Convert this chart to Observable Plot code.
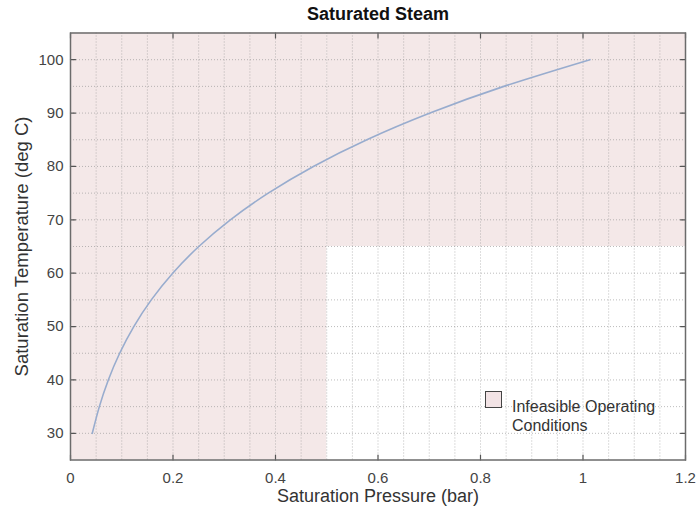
<!DOCTYPE html>
<html>
<head>
<meta charset="utf-8">
<script src="https://cdn.jsdelivr.net/npm/d3@7"></script>
<script src="https://cdn.jsdelivr.net/npm/@observablehq/plot@0.6"></script>
<style>
  body { margin: 0; background: white; }
  #wrap { position: relative; width: 699px; height: 510px; font-family: "Liberation Sans", Arial, sans-serif; }
  #legend { position: absolute; left: 485px; top: 391px; color: #333; font-size: 16px; line-height: 19px; }
  #legend .box { position: absolute; left: 0; top: 0; width: 15px; height: 15px; border: 1.3px solid #444; background: #f2e3e5; }
  #legend .txt { position: absolute; left: 27px; top: 5.5px; white-space: nowrap; }
</style>
</head>
<body>
<div id="wrap"></div>
<script>
// Saturation temperature (deg C) and pressure (bar)
const temperature = [30, 35, 40, 45, 50, 55, 60, 65, 70, 75, 80, 85, 90, 95, 100];
const pressure = [0.0425, 0.0563, 0.0738, 0.0959, 0.1235, 0.1576, 0.1994, 0.2503, 0.3119, 0.3858, 0.4739, 0.5783, 0.7014, 0.8455, 1.0135];

// Infeasible operating region (shaded)
const regionX1 = [0, 0.5];
const regionX2 = [0.5, 1.2];
const regionY1 = [25, 65];
const regionY2 = [105, 105];

const xTicks = [0, 0.2, 0.4, 0.6, 0.8, 1, 1.2];
const yTicks = [30, 40, 50, 60, 70, 80, 90, 100];
const xGrid = [0.05, 0.1, 0.15, 0.2, 0.25, 0.3, 0.35, 0.4, 0.45, 0.5, 0.55, 0.6, 0.65, 0.7, 0.75, 0.8, 0.85, 0.9, 0.95, 1, 1.05, 1.1, 1.15];
const yGrid = [30, 35, 40, 45, 50, 55, 60, 65, 70, 75, 80, 85, 90, 95, 100];

const curve = temperature.map((t, i) => ({p: pressure[i], t}));
const regions = regionX1.map((x1, i) => ({x1, x2: regionX2[i], y1: regionY1[i], y2: regionY2[i]}));

const fmt = d => String(+d.toFixed(2));
const tickShape = {draw(context, l) { context.moveTo(0, 0); context.lineTo(0, -l); }};
const tickStyle = {length: 5, anchor: "start", shape: tickShape, stroke: "#555", strokeWidth: 1.2};

const chart = Plot.plot({
  width: 699,
  height: 510,
  marginLeft: 70,
  marginRight: 14,
  marginTop: 32.5,
  marginBottom: 50.5,
  x: {domain: [0, 1.2]},
  y: {domain: [25, 105]},
  style: {fontFamily: "'Liberation Sans', Arial, sans-serif", fontSize: "15px", color: "#444", background: "white", overflow: "visible"},
  marks: [
    Plot.rect(regions, {x1: "x1", x2: "x2", y1: "y1", y2: "y2", fill: "#f4e8e8"}),
    Plot.gridX(xGrid, {stroke: "#8f8f8f", strokeOpacity: 0.6, strokeDasharray: "1,2"}),
    Plot.gridY(yGrid, {stroke: "#8f8f8f", strokeOpacity: 0.6, strokeDasharray: "1,2"}),
    Plot.line(curve, {x: "p", y: "t", stroke: "#98acce", strokeWidth: 1.6, curve: "natural"}),
    Plot.vector(xTicks, {x: d => d, frameAnchor: "bottom", rotate: 0, ...tickStyle}),
    Plot.vector(xTicks, {x: d => d, frameAnchor: "top", rotate: 180, ...tickStyle}),
    Plot.vector(yTicks, {y: d => d, frameAnchor: "left", rotate: 90, ...tickStyle}),
    Plot.vector(yTicks, {y: d => d, frameAnchor: "right", rotate: -90, ...tickStyle}),
    Plot.frame({stroke: "#6b6b6b", strokeWidth: 1.5}),
    Plot.axisX(xTicks, {anchor: "bottom", tickSize: 0, tickPadding: 12, tickFormat: fmt, fill: "#444", fontSize: 15, label: null}),
    Plot.axisY(yTicks, {anchor: "left", tickSize: 0, tickPadding: 7, tickFormat: fmt, fill: "#444", fontSize: 15, label: null}),
    Plot.text(["Saturated Steam"], {frameAnchor: "top", lineAnchor: "middle", dy: -18.5, fontWeight: "bold", fontSize: 18, fill: "#111"}),
    Plot.text(["Saturation Pressure (bar)"], {frameAnchor: "bottom", lineAnchor: "middle", dy: 36, fontSize: 18, fill: "#333"}),
    Plot.text(["Saturation Temperature (deg C)"], {frameAnchor: "left", textAnchor: "middle", lineAnchor: "middle", dx: -48, rotate: -90, fontSize: 18.5, fill: "#333"})
  ]
});

const wrap = document.getElementById("wrap");
wrap.appendChild(chart);
const legend = document.createElement("div");
legend.id = "legend";
legend.innerHTML = '<div class="box"></div><div class="txt">Infeasible Operating<br>Conditions</div>';
wrap.appendChild(legend);
</script>
</body>
</html>
